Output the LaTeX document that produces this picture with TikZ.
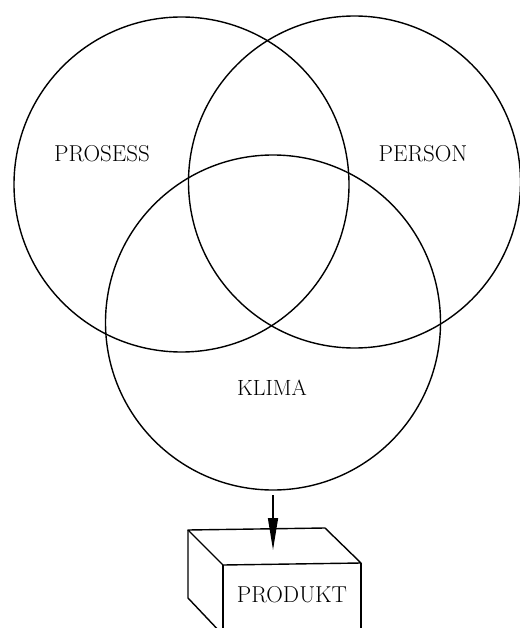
\documentclass[tikz,border=0pt]{standalone}
\usetikzlibrary{arrows.meta}
\begin{document}
\begin{tikzpicture}[x=1pt,y=-1pt,
  ring/.style={draw,circle,line width=1.4pt,inner sep=0pt,outer sep=0pt},
  lbl/.style={font=\fontsize{23}{25}\selectfont,inner sep=0pt},
  edge/.style={line width=1.4pt,line join=round}]
\useasboundingbox (0,0) rectangle (519,628);
\node[ring,minimum size=335pt] (prosess) at (181.5,184.5) {};
\node[ring,minimum size=332pt] (person) at (354.5,182) {};
\node[ring,minimum size=335pt] (klima) at (273,322.5) {};
\node[lbl] (tp) at (102,154) {PROSESS};
\node[lbl] (tq) at (423,154) {PERSON};
\node[lbl,font=\fontsize{22}{24}\selectfont] (tk) at (272,388) {KLIMA};
% box
\coordinate (bl) at (188,530);
\coordinate (br) at (325,528);
\coordinate (fl) at (223,565);
\coordinate (fr) at (361,563);
\coordinate (flb) at (223,635);
\coordinate (frb) at (361,635);
\coordinate (blb) at (188,598);
\draw[edge] (fl) -- (bl) -- (br) -- (fr) -- cycle;
\draw[edge] (fl) -- (flb);
\draw[edge] (fr) -- (frb);
\draw[edge] (bl) -- (blb) -- (flb);
\node[lbl] (prod) at (292,595) {PRODUKT};
\coordinate (tip) at (273,550);
\draw[line width=1.4pt,-{Triangle[length=32pt,width=10pt]}] ([yshift=-5pt]klima.south) -- (tip);
\end{tikzpicture}
\end{document}
